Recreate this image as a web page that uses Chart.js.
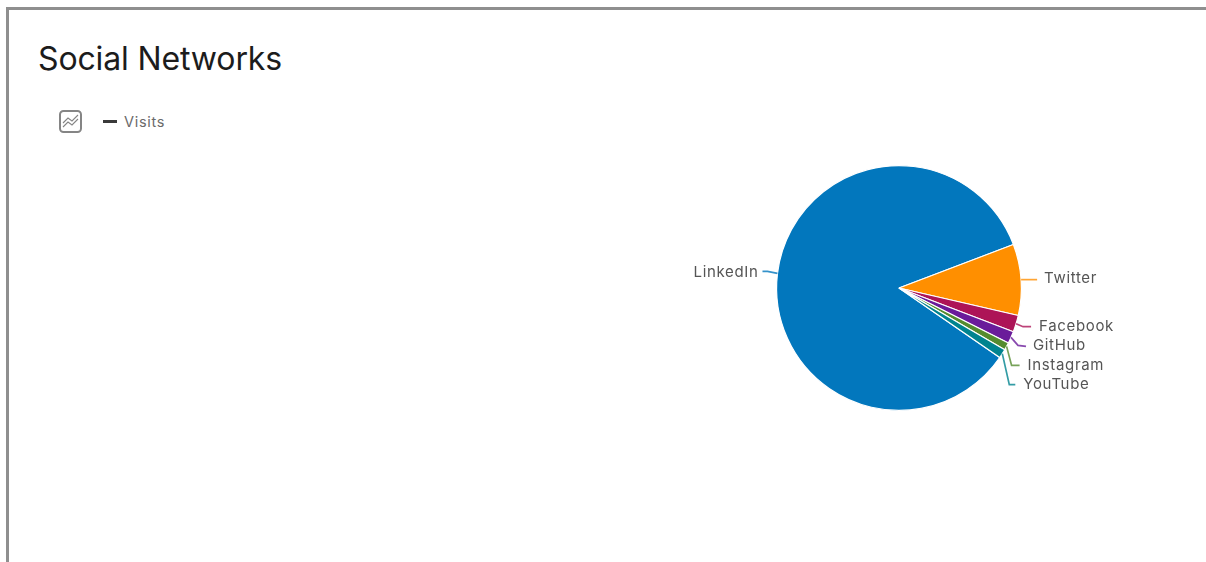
<!DOCTYPE html>
<html>
<head>
<meta charset="utf-8">
<title>Social Networks</title>
<script src="https://cdn.jsdelivr.net/npm/chart.js@4"></script>
<style>
  html, body { margin: 0; padding: 0; background: #fff; overflow: hidden; }
  #frame { position: absolute; left: 6px; top: 7px; width: 1300px; height: 700px;
           border-left: 3px solid #8f8f8f; border-top: 3px solid #8f8f8f; box-sizing: border-box; }
  #heading { position: absolute; left: 38px; top: 40px; margin: 0; font: 400 32px/38px Inter, sans-serif;
             letter-spacing: -0.13px; color: #1c1c1c; }
  #seriesKey { position: absolute; left: 59px; top: 110px; height: 23px; display: flex; align-items: center;
               font: 400 14.5px Inter, sans-serif; letter-spacing: 0.7px; color: #6a6a6a; }
  #seriesKey svg { display: block; }
  #seriesKey i { display: block; width: 14px; height: 2.5px; background: #3a3a3a; margin: 0 7px 0 21px; }
  canvas { position: absolute; left: 0; top: 0; }
</style>
</head>
<body>
<div id="frame"></div>
<h1 id="heading">Social Networks</h1>
<div id="seriesKey">
  <svg width="23" height="23" viewBox="0 0 23 23" fill="none" stroke="#858585">
    <rect x="1" y="1" width="21" height="21" rx="3.5" stroke-width="2"/>
    <path d="M4 13 L9 8 L13 11 L19 5" stroke-width="1.1"/>
    <path d="M4 17 L9 12 L13 15 L19 9" stroke-width="1.1"/>
  </svg>
  <i></i><span>Visits</span>
</div>
<canvas id="chart" width="1206" height="562"></canvas>
<script>
const categories = ['LinkedIn', 'Twitter', 'Facebook', 'GitHub', 'Instagram', 'YouTube'];
const visits = [84.6, 9.4, 2.2, 1.6, 1.0, 1.2];
const sliceColors = ['#0277BD', '#FF8F00', '#AD1457', '#6A1B9A', '#558B2F', '#00838F'];

// Callout layout per slice, relative to the midpoint of the slice's outer edge:
// bend/end of the leader line and where its label sits.
const callouts = [
  { elbow: [-10, -2], end: [-15, -2], text: [-19, -1] },
  { elbow: [8, 0],    end: [16, 0],   text: [23, -1] },
  { elbow: [7, 3],    end: [15, 3],   text: [23, 3] },
  { elbow: [7, 8],    end: [15, 9],   text: [22, 8.5] },
  { elbow: [5, 19],   end: [13, 19],  text: [21, 19] },
  { elbow: [7, 31],   end: [13, 31],  text: [21, 31] }
];

// Draws the leader lines and category labels around the pie.
const sliceCallouts = {
  id: 'sliceCallouts',
  afterDatasetsDraw(chart) {
    const ctx = chart.ctx;
    chart.getDatasetMeta(0).data.forEach((arc, i) => {
      const { x, y, startAngle, endAngle, outerRadius } = arc.getProps(['x', 'y', 'startAngle', 'endAngle', 'outerRadius'], true);
      const mid = (startAngle + endAngle) / 2;
      const px = x + Math.cos(mid) * outerRadius;
      const py = y + Math.sin(mid) * outerRadius;
      const c = callouts[i];
      ctx.save();
      ctx.strokeStyle = sliceColors[i];
      ctx.globalAlpha = 0.8;
      ctx.lineWidth = 1.7;
      ctx.beginPath();
      ctx.moveTo(px, py);
      ctx.lineTo(px + c.elbow[0], py + c.elbow[1]);
      ctx.lineTo(px + c.end[0], py + c.end[1]);
      ctx.stroke();
      ctx.globalAlpha = 1;
      ctx.fillStyle = '#555';
      ctx.font = '15px Inter, sans-serif';
      ctx.letterSpacing = '0.65px';
      ctx.textBaseline = 'middle';
      ctx.textAlign = c.text[0] < 0 ? 'right' : 'left';
      ctx.fillText(categories[i], px + c.text[0], py + c.text[1]);
      ctx.restore();
    });
  }
};

new Chart(document.getElementById('chart'), {
  type: 'pie',
  data: {
    labels: categories,
    datasets: [{
      label: 'Visits',
      data: visits,
      backgroundColor: sliceColors,
      borderColor: '#ffffff',
      borderWidth: 1.2
    }]
  },
  options: {
    responsive: false,
    animation: false,
    rotation: -235.4,
    layout: { padding: { left: 776, top: 165, right: 184, bottom: 151 } },
    plugins: { legend: { display: false }, title: { display: false }, tooltip: { enabled: false } }
  },
  plugins: [sliceCallouts]
});
</script>
</body>
</html>
